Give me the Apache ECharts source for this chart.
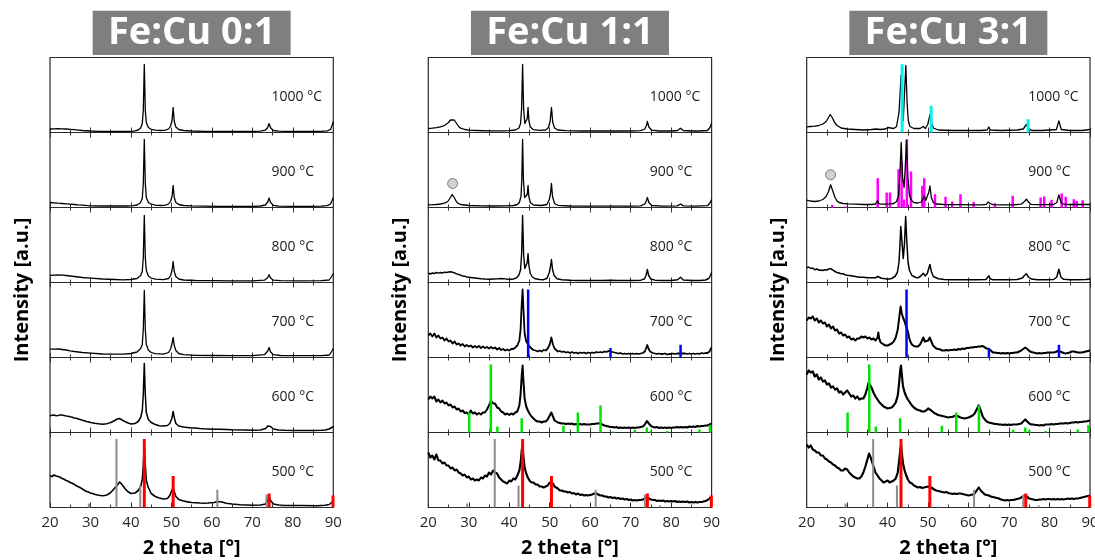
<!DOCTYPE html>
<html>
<head>
<meta charset="utf-8">
<script src="https://cdn.jsdelivr.net/npm/echarts@6/dist/echarts.min.js"></script>
<style>
  html, body { margin: 0; padding: 0; background: #fff; }
  #chart { width: 1095px; height: 560px; }
</style>
</head>
<body>
<div id="chart"></div>
<script>
// ---- Axis and labels ----
const panelTitles = ['Fe:Cu 0:1', 'Fe:Cu 1:1', 'Fe:Cu 3:1'];
const temperatures = ['1000 °C', '900 °C', '800 °C', '700 °C', '600 °C', '500 °C'];
const twoThetaTicks = [20, 30, 40, 50, 60, 70, 80, 90];
const xTitle = '2 theta [°]';
const yTitle = 'Intensity [a.u.]';

// ---- Diffraction patterns: flat lists of 2θ, intensity (a.u.) ----
// Fe:Cu 0:1
const fe0cu1_1000 = [20,3.5, 21,3.7, 22,3.8, 23,3.7, 24,3.5, 25,3.2, 26,2.8, 27,2.4, 28,2, 30,1.5, 32,1.2, 35,1, 38,1, 40,1.2, 41,1.6, 41.8,2.5, 42.4,4.5, 42.8,9, 43.05,22, 43.3,68, 43.55,22, 43.8,10, 44.3,5, 45,3.2, 46,2.3, 47.5,2, 48.5,2.3, 49.3,3.5, 49.8,6.5, 50.15,12, 50.43,25, 50.7,11, 51.1,5.5, 51.8,3, 53,2, 55,1.5, 58,1.2, 62,1, 66,1, 70,1, 72,1.3, 73.2,2.3, 73.8,5, 74.13,9, 74.5,4.8, 75.2,2, 76.5,1.3, 80,1, 84,1, 87,1.1, 88.5,1.6, 89.3,3, 89.7,7, 90,11];
const fe0cu1_900 = [20,5, 21,4.7, 22,4.3, 23,4, 24,3.7, 25,3.4, 26,3, 27,2.6, 28,2.3, 30,1.7, 33,1.5, 36,1.5, 39,1.5, 40.5,1.8, 41.5,2.5, 42.3,4.5, 42.8,9, 43.05,24, 43.3,68, 43.55,24, 43.8,10, 44.3,5, 45,3.3, 46,2.3, 47.5,2, 48.5,2.3, 49.3,3.5, 49.8,6.5, 50.15,11, 50.43,22, 50.7,10, 51.1,5, 51.8,3, 53,2, 55,1.6, 58,1.3, 62,1.2, 66,1.2, 70,1.2, 72,1.5, 73.2,2.5, 73.8,5.5, 74.13,9.5, 74.5,5, 75.2,2.2, 76.5,1.4, 80,1.2, 84,1.2, 87,1.3, 88.5,1.8, 89.3,3.5, 89.7,7, 90,10];
const fe0cu1_800 = [20,7, 21,7.3, 22,7.5, 23,7.3, 24,7, 25,6.5, 26,6, 27,5.5, 28,5, 30,4.3, 33,3.5, 36,3, 38,2.7, 40,3, 41.5,4, 42.4,7, 42.8,11, 43.05,25, 43.3,67, 43.55,25, 43.8,12, 44.3,6.5, 45,4.5, 46,3.3, 48,2.8, 49.3,4, 49.8,7, 50.15,12, 50.43,21, 50.7,11, 51.1,6, 51.8,3.5, 53,2.5, 56,2, 60,1.8, 65,1.7, 70,1.7, 73,2.3, 73.8,5, 74.13,7.7, 74.5,4.5, 75.2,2.3, 77,1.8, 82,1.7, 87,1.8, 89,2.5, 89.6,6, 90,9];
const fe0cu1_700 = [20,8.3, 21,8.4, 22,8.5, 23,8, 24,7.5, 25,6.7, 26,6, 28,5, 30,4.3, 33,3.5, 35,3.3, 38,3.3, 40,4, 41.5,5.5, 42.4,9, 42.8,13, 43.05,28, 43.3,67, 43.55,28, 43.8,13, 44.3,7.5, 45,5, 46,3.8, 48,3.3, 49.3,5, 49.8,8.5, 50.15,14, 50.43,20, 50.7,12, 51.1,7, 51.8,4, 53,2.8, 56,2.2, 60,2, 65,1.8, 70,1.8, 73,2.8, 73.8,6.5, 74.13,10, 74.5,5.5, 75.2,2.8, 77,2, 82,1.8, 87,1.8, 89,2.5, 89.6,6, 90,9];
const fe0cu1_600 = [20,16.7, 20.5,17.3, 21,17.5, 21.5,16.8, 22,17, 22.5,17.6, 23,17.5, 23.5,16.9, 24,16.5, 24.5,16.3, 25,15.7, 25.5,15.3, 26,14.5, 26.5,14.2, 27,13.5, 27.5,13, 28,12.3, 28.5,11.8, 29,11, 29.5,10.7, 30,10, 30.5,9.8, 31,9.3, 31.5,9.1, 32,8.7, 32.5,8.6, 33,8.3, 33.5,8.6, 34,8.7, 34.5,9.4, 35,10, 35.5,11, 36,12, 36.6,13.5, 37.2,14, 37.8,12.5, 38.5,11, 39.3,9.5, 40,8.5, 41,9, 41.8,11, 42.4,15, 42.8,22, 43.05,38, 43.3,69, 43.55,38, 43.8,20, 44.3,13, 45,10, 46,8, 47,6.7, 48,6.5, 49,7, 49.6,9, 50.1,14, 50.43,21, 50.7,15, 51.1,9, 51.8,6.5, 53,5.5, 54,5, 55,4.5, 56,4.4, 57,4, 58,3.7, 60,3.3, 62,3.3, 63.5,3, 65,2.7, 68,2.5, 70,2.3, 72,2.5, 73.3,4, 73.8,6.5, 74.13,8.3, 74.5,6, 75.2,3.5, 76.5,2.5, 78,2.2, 80,2, 82,2.1, 85,2, 87,2.2, 88,2.5, 89,3.5, 89.6,5, 90,6];
const fe0cu1_500 = [20,31.7, 20.5,31, 21,32.5, 21.5,31.5, 22,31, 22.5,30.3, 23,29, 23.5,28.2, 24,27, 24.5,26.2, 25,25, 25.5,24.2, 26,23, 26.5,21.8, 27,20.7, 27.5,19.8, 28,18.5, 28.5,17.2, 29,16, 29.5,15.4, 30,14.5, 30.5,14, 31,13.3, 31.5,12.8, 32,12.3, 32.5,12, 33,11.7, 33.5,12, 34,12.5, 34.5,13.5, 35,15, 35.8,18.5, 36.5,21.7, 37.2,25.5, 37.8,23, 38.5,19, 39.2,16, 40,14, 41,14.5, 41.8,17, 42.4,21, 42.8,28, 43.05,42, 43.3,62, 43.55,42, 43.8,27, 44.3,20, 45,14, 46,11, 47,9.5, 48,8.5, 49,9, 49.6,12, 50.1,17, 50.43,20, 50.7,16, 51.1,11, 51.8,8, 53,6.5, 54,5.6, 55,5, 56,4.8, 57,4.5, 58,4.3, 59,4.5, 60.5,5, 61.5,6, 62.5,5.5, 63.5,4.3, 65,3.5, 67,2.7, 70,2.3, 72,2.5, 73.3,3.5, 73.8,7, 74.13,11.5, 74.5,7, 75.2,3.5, 76.5,2.5, 78,2, 82,2, 86,1.8, 88,2.2, 89,3, 89.6,5, 90,6.7];

// Fe:Cu 1:1
const fe1cu1_1000 = [20,4, 21,4.3, 22,4.8, 23,5.7, 24,7, 25,10, 25.5,12.5, 25.9,14.3, 26.4,12.5, 27,9, 27.5,6, 28,4.3, 29,3, 30,2.3, 32,2, 35,1.7, 38,1.7, 40,1.8, 41.5,2.5, 42.4,4.5, 42.8,9, 43.05,24, 43.3,68, 43.55,24, 43.85,9, 44.2,7.5, 44.45,14, 44.65,25, 44.85,12, 45.2,5.5, 46,2.8, 47.5,2.2, 49,2.5, 49.7,5, 50.1,11, 50.43,25, 50.75,10, 51.2,4.5, 52,2.5, 54,1.8, 58,1.5, 62,1.5, 66,1.5, 70,1.5, 72.5,1.8, 73.5,3.5, 73.9,7, 74.13,11, 74.5,5.5, 75.2,2.3, 77,1.5, 80,1.5, 81.6,2, 82.33,4.3, 83,2, 85,1.5, 87,1.5, 89,2, 89.6,5, 90,9];
const fe1cu1_900 = [20,2.7, 21,2.8, 22,3, 23,3.5, 24,4.3, 24.8,6, 25.4,9.5, 25.9,13, 26.4,10, 27,5.5, 27.5,3.8, 28,3, 30,2, 33,1.7, 36,1.5, 39,1.7, 41,2, 42,3, 42.5,5, 42.9,11, 43.1,28, 43.3,68, 43.5,28, 43.8,10, 44.2,8, 44.45,13, 44.65,22, 44.85,11, 45.2,5, 46,2.5, 48,2, 49.3,3, 49.9,8, 50.2,14, 50.43,24, 50.7,11, 51.2,4, 52,2.2, 55,1.5, 60,1.3, 65,1.3, 70,1.3, 72.5,1.6, 73.5,3.5, 73.9,7, 74.13,10, 74.5,5, 75.2,2, 78,1.3, 81.5,1.6, 82.33,3.5, 83,1.6, 86,1.3, 89,1.8, 89.6,4.5, 90,8];
const fe1cu1_800 = [20,9.5, 20.5,8.5, 21,9.5, 21.5,9, 22,10, 22.5,9.3, 23,10, 23.5,9.5, 24,10.3, 24.5,10, 25,10.5, 25.5,10.7, 26,10.3, 26.5,9.5, 27,8.7, 27.5,8, 28,7.3, 28.5,6.5, 29,6.3, 29.5,5.5, 30,5.3, 31,4.8, 32,4.3, 33,3.8, 34,3.5, 35,3.3, 36,3.5, 37,3.6, 38,4, 39,3.6, 40,3, 41,3.5, 41.8,4.7, 42.4,7.5, 42.8,13, 43.05,28, 43.3,67, 43.55,28, 43.85,14, 44.2,13, 44.45,20, 44.65,28.7, 44.85,17, 45.2,9, 45.7,5.5, 46.5,3.7, 47.5,3, 48.5,2.8, 49.3,4, 49.9,10, 50.15,15, 50.43,23, 50.7,13, 51.1,7, 51.8,3.8, 53,2.7, 55,2.2, 57,2, 60,2, 63,2, 65,2.2, 67,2, 70,2, 72.5,2.3, 73.4,3.5, 73.8,7, 74.13,13, 74.45,7, 75,3.5, 76,2.3, 78,2, 80,2, 81.6,2.8, 82.33,5.3, 83,2.5, 85,2, 87,2, 88.5,2.5, 89.3,4, 89.7,7, 90,10];
const fe1cu1_700 = [20,22, 20.5,24, 21,21, 21.5,24, 22,20, 22.5,22, 23,19, 23.5,20, 24,17, 24.5,19, 25,16, 25.5,17, 26,14, 26.5,16, 27,13, 27.5,14, 28,12, 28.5,13.5, 29,11, 29.5,12.5, 30,11, 30.5,12, 31,10, 31.5,11.5, 32,10, 32.5,11.5, 33,9.5, 33.5,11, 34,9.5, 34.5,10.5, 35,9, 35.5,10.5, 36,9, 36.5,10, 37,8, 37.5,9.5, 38,7.5, 38.5,8.5, 39,7, 39.5,8, 40,7, 40.5,8.5, 41,8.5, 41.5,10, 42,12, 42.5,17, 42.8,28, 43.1,55, 43.3,68, 43.5,50, 43.8,24, 44.2,16, 44.6,15, 45,11, 45.5,9, 46,7.5, 46.5,7, 47,6, 47.5,7, 48,6, 48.5,7.5, 49,7, 49.5,9, 50,13, 50.4,20, 50.8,13, 51.2,9, 51.5,7.5, 52,6, 52.5,6.5, 53,5.5, 53.5,6, 54,5, 54.5,5.5, 55,4.5, 55.5,5.5, 56,4.5, 56.5,5, 57,4, 57.5,5, 58,4.5, 58.5,5, 59,4, 59.5,5, 60,4.5, 60.5,5, 61,4.5, 61.5,5.5, 62,5, 62.5,5.5, 63,5, 63.5,6, 64,5.5, 64.5,6.5, 65,6, 65.5,5.5, 66,5, 66.5,4.5, 67,4, 67.5,4.5, 68,3.5, 68.5,4, 69,3.5, 69.5,4, 70,3.5, 70.5,4, 71,3.5, 71.5,4, 72,3.5, 72.5,4, 73,4.5, 73.5,6, 73.8,9, 74.1,12.5, 74.4,9, 74.8,6, 75.2,5, 75.5,4.5, 76,4, 76.5,3.5, 77,4, 77.5,3.5, 78,3.5, 78.5,4, 79,3, 79.5,3.5, 80,3.5, 80.5,4, 81,3.5, 81.5,4, 82,4, 82.3,5, 82.6,4, 83,3.5, 83.5,4, 84,3.5, 84.5,4, 85,3.5, 85.5,4, 86,3.5, 86.5,4, 87,3.5, 87.5,4.5, 88,4, 88.5,4.5, 89,4.5, 89.5,6, 89.8,9, 90,10];
const fe1cu1_600 = [20,33, 20.5,36, 21,34, 21.5,36, 22,31, 22.5,33, 23,30, 23.5,32, 24,29, 24.5,30, 25,27, 25.5,28, 26,25, 26.5,26, 27,23, 27.5,24, 28,21, 28.5,22, 29,19.5, 29.5,20, 30,18, 30.5,22, 31,19, 31.5,20, 32,18, 32.5,19.5, 33,18, 33.5,20, 34,20, 34.5,23, 35,27, 35.5,32, 36,29, 36.5,29, 37,25, 37.5,24, 38,21, 38.5,20, 39,18, 39.5,19, 40,17.5, 40.5,19, 41,18, 41.5,20, 42,21, 42.5,27, 42.8,38, 43.1,58, 43.3,67, 43.5,52, 43.8,34, 44.2,26, 44.6,22, 45,19, 45.5,16, 46,14, 46.5,12, 47,11, 47.5,11, 48,10, 48.5,11, 49,11, 49.5,13, 50,17, 50.4,20, 50.8,16, 51.2,12, 51.5,11, 52,10, 52.5,9.5, 53,9, 53.5,9, 54,8.5, 54.5,9, 55,8.5, 55.5,9, 56,8, 56.5,8.5, 57,8, 57.5,8.5, 58,8, 58.5,8.5, 59,8, 59.5,8, 60,8, 60.5,8.5, 61,8.5, 61.5,9, 62,9, 62.5,9.5, 63,8, 63.5,7, 64,6.5, 64.5,6, 65,5.5, 65.5,5.5, 66,5, 66.5,5.5, 67,4.5, 67.5,5, 68,4.5, 68.5,5, 69,4.5, 69.5,5, 70,4.5, 70.5,5, 71,4.5, 71.5,5, 72,5, 72.5,5.5, 73,6, 73.5,8, 74,11.5, 74.3,11, 74.7,8, 75.2,6, 75.5,5.5, 76,5, 76.5,5.5, 77,4.5, 77.5,5, 78,4.5, 78.5,5, 79,4.5, 79.5,5, 80,4.5, 80.5,5, 81,5, 81.5,5.5, 82,5, 82.5,5.5, 83,5, 83.5,5.5, 84,5, 84.5,6, 85,5.5, 85.5,6, 86,5.5, 86.5,6.5, 87,6, 87.5,6.5, 88,6.5, 88.5,7, 89,7, 89.5,8, 90,9];
const fe1cu1_500 = [20,55, 20.5,50, 21,52, 21.5,48, 22,53, 22.5,47, 23,47, 23.5,44, 24,45, 24.5,42, 25,42, 25.5,39, 26,40, 26.5,37, 27,38, 27.5,35, 28,34, 28.5,32, 29,33, 29.5,30, 30,31, 30.5,28, 31,29, 31.5,27, 32,28, 32.5,27, 33,30, 33.5,29, 34,32, 34.5,31, 35,35, 35.5,33, 36,37, 36.5,35, 37,34, 37.5,30, 38,28, 38.5,26, 39,25, 39.5,24, 40,27, 40.5,26, 41,29, 41.5,28, 42,32, 42.5,37, 42.8,45, 43.1,58, 43.3,62, 43.5,52, 43.8,40, 44.2,34, 44.6,30, 45,27, 45.5,25, 46,25, 46.5,23, 47,23, 47.5,21, 48,21, 48.5,20, 49,21, 49.5,22, 50,25, 50.4,27, 50.8,24, 51.2,21, 51.5,20, 52,19, 52.5,17, 53,17, 53.5,16, 54,16, 54.5,15, 55,15.5, 55.5,14, 56,14.5, 56.5,13, 57,14, 57.5,12.5, 58,13, 58.5,12, 59,12.5, 59.5,12, 60,12.5, 60.5,13, 61,14, 61.5,14, 62,13, 62.5,12, 63,12, 63.5,11, 64,11, 64.5,10, 65,10.5, 65.5,9.5, 66,10, 66.5,9, 67,9.5, 67.5,8.5, 68,9, 68.5,8, 69,8.5, 69.5,7.5, 70,8, 70.5,7, 71,7.5, 71.5,7, 72,7.5, 72.5,7.5, 73,8, 73.5,9, 74,10, 74.5,9, 75,8, 75.5,7.5, 76,7.5, 76.5,6.5, 77,7, 77.5,6.5, 78,7, 78.5,6, 79,6.5, 79.5,6, 80,6.5, 80.5,6, 81,6.5, 81.5,5.5, 82,6, 82.5,5.5, 83,6, 83.5,5.5, 84,6, 84.5,5, 85,5.5, 85.5,5, 86,5.5, 86.5,5, 87,5.5, 87.5,5.5, 88,6, 88.5,6.5, 89,7.5, 89.5,9, 90,11];

// Fe:Cu 3:1
const fe3cu1_1000 = [20,5.7, 21,6, 22,6.3, 23,7, 24,8.5, 24.8,11, 25.4,15, 25.8,18, 26.3,15, 26.9,10, 27.5,7, 28.5,4.5, 30,3.5, 32,3, 34,2.5, 36,3, 37.3,3.5, 37.7,5.5, 38.1,3, 39.5,3.5, 40,5, 40.4,3, 41.5,4, 42.2,6, 42.8,20, 43.1,40, 43.3,57, 43.6,30, 43.85,12, 44.15,38, 44.5,67, 44.8,30, 45.1,12, 45.5,6, 45.9,5, 46.5,4, 48,4, 48.8,6, 49.3,4, 49.9,8, 50.25,14, 50.5,18, 50.8,10, 51.3,4.5, 52.5,2.5, 56,2, 60,2, 63,2, 64.6,2.5, 65,5.5, 65.4,2.5, 68,2, 72,2.5, 73.5,3.5, 74.3,8, 74.9,4, 75.6,2, 78,2, 80,2.5, 81.7,3, 82.3,11.7, 82.9,3, 85,2, 88,2, 90,3];
const fe3cu1_900 = [20,7.3, 20.5,6.8, 21,6.5, 22,6, 23,6.5, 24,8, 24.8,11, 25.4,16, 25.9,22.7, 26.4,17, 27,10, 27.5,6.5, 28,5, 29,4, 30,3.7, 32,3.3, 34,3, 36,3, 37,3.5, 37.3,5, 37.5,7, 37.7,4.5, 38.2,3.3, 39.5,3.3, 40.5,3.6, 41.5,4, 42.2,6, 42.7,12, 43.05,35, 43.35,65, 43.7,30, 44.05,20, 44.35,40, 44.65,67, 45,30, 45.4,12, 45.9,7, 46.5,5, 47.5,4.5, 48.3,5.5, 48.8,9, 49.05,11.7, 49.4,7, 49.8,8, 50.15,15, 50.45,21.7, 50.8,10, 51.3,5, 52,3.5, 54,3, 56,2.8, 58,2.8, 61,2.7, 63,2.7, 64.4,3.2, 64.8,5.5, 65.03,7.3, 65.3,4, 66,2.8, 68,2.7, 71,2.7, 73,3.3, 73.8,6, 74.3,8.3, 74.8,5.5, 75.4,3.2, 77,2.8, 79,2.8, 81,3, 81.8,5, 82.3,12.7, 82.8,5.5, 83.4,3.3, 85,3, 87,3, 89,3, 90,3];
const fe3cu1_800 = [20,14.7, 20.5,15.5, 21,14, 21.5,14.5, 22,12.7, 22.5,13.5, 23,12.3, 23.5,12.5, 24,12, 24.5,12.8, 25,12.5, 25.5,13.7, 26,13.7, 26.5,12.3, 27,11, 27.5,10, 28,9.5, 28.5,8.7, 29,8.7, 29.5,7.8, 30,7.3, 31,6.7, 32,6, 33,5.3, 34,5.3, 35,4.7, 36,4.7, 37,4.7, 37.5,6, 37.7,8, 37.9,5, 38.5,4.3, 39.5,3.7, 40,3.3, 41,4, 41.8,6, 42.4,10, 42.8,20, 43.05,38, 43.25,56, 43.55,40, 43.85,24, 44.15,38, 44.45,66, 44.75,40, 45.05,20, 45.4,12, 46,7, 47,5, 47.5,4.7, 48.2,6.5, 48.8,9.3, 49.3,6.5, 49.8,9, 50.15,14, 50.45,18, 50.8,11, 51.3,6, 52.5,3.7, 54,3, 56,2.7, 58,2.7, 60,2.7, 62,2.7, 64.3,3, 64.75,5, 65.03,6.7, 65.3,3.7, 66,2.8, 68,2.7, 70,2.7, 72,3, 73.3,4.5, 73.8,7, 74.3,8.7, 74.8,5.5, 75.5,3.5, 77,2.8, 79,2.7, 81,3, 81.8,5.5, 82.3,13.3, 82.8,5.5, 83.5,3.2, 85,2.8, 87,2.7, 89,3, 90,3.5];
const fe3cu1_700 = [20,37, 20.5,40, 21,39, 21.5,41, 22,37, 22.5,39, 23,35, 23.5,37, 24,34, 24.5,35, 25,31, 25.5,33, 26,29, 26.5,31, 27,27, 27.5,28, 28,24, 28.5,25, 29,22, 29.5,23, 30,20, 30.5,21, 31,18, 31.5,19, 32,17, 32.5,19, 33,19, 33.5,21, 34,20, 34.5,21, 35,19, 35.5,20, 36,18, 36.5,19, 37,17, 37.5,20, 37.7,25, 37.9,19, 38.3,15, 38.5,14, 39,13, 39.5,12, 40,12, 40.5,13, 41,14, 41.5,16, 42,20, 42.5,28, 42.8,38, 43.2,51, 43.5,44, 43.8,40, 44.1,37, 44.4,33, 44.7,30, 45,26, 45.3,20, 45.6,16, 46,13, 46.5,11.5, 47,11, 47.5,11, 48,13, 48.5,17, 48.8,20, 49.2,16, 49.5,15, 50,17, 50.4,20, 50.8,16, 51.2,12, 51.5,11, 52,9, 52.5,8.5, 53,8, 53.5,7, 54,7, 54.5,7.5, 55,7, 55.5,7.5, 56,7.5, 56.5,8, 57,7.5, 57.5,8.5, 58,8, 58.5,9, 59,8.5, 59.5,9.5, 60,9.5, 60.5,10, 61,10, 61.5,10.5, 62,10.5, 62.5,11, 63,11, 63.5,11.5, 64,10, 64.5,9, 65,8.5, 65.5,7, 66,5, 66.5,5, 67,4.5, 67.5,4.5, 68,4, 68.5,4.5, 69,4, 69.5,4.5, 70,4, 70.5,4.5, 71,4.5, 71.5,5, 72,5, 72.5,6, 73,7, 73.5,8.5, 74,10, 74.5,8.5, 75,6.5, 75.5,5.5, 76,5, 76.5,4.5, 77,4, 77.5,4.5, 78,4, 78.5,4.5, 79,4.5, 79.5,5, 80,5, 80.5,5, 81,5, 81.5,5.5, 82,6.5, 82.3,7.5, 82.6,6, 83,5, 83.5,4.5, 84,4, 84.5,4.5, 85,5, 85.5,6, 86,6, 86.5,5.5, 87,5, 87.5,5, 88,5, 88.5,5.5, 89,6, 89.5,6.5, 90,7];
const fe3cu1_600 = [20,58, 20.5,62, 21,60, 21.5,61, 22,56, 22.5,58, 23,53, 23.5,55, 24,51, 24.5,52, 25,48, 25.5,49, 26,45, 26.5,46, 27,43, 27.5,44, 28,40, 28.5,41, 29,38, 29.5,40, 30,42, 30.5,39, 31,36, 31.5,37, 32,34, 32.5,36, 33,33, 33.5,34, 34,34, 34.5,38, 35,45, 35.3,50, 35.6,51, 36,45, 36.5,40, 37,36, 37.5,33, 38,30, 38.5,28, 39,26, 39.5,25, 40,24, 40.5,24.5, 41,25, 41.5,27, 42,30, 42.5,37, 42.8,48, 43.1,62, 43.3,67, 43.5,58, 43.8,46, 44.2,40, 44.6,36, 45,33, 45.5,30, 46,27, 46.5,25, 47,23.5, 47.5,22.5, 48,22, 48.5,21, 49,21, 49.5,22, 50,24, 50.4,25, 50.8,22, 51.2,20, 51.5,19.5, 52,18.5, 52.5,17.5, 53,17, 53.5,16.5, 54,16, 54.5,15.5, 55,15, 55.5,15.5, 56,15.5, 56.5,16.5, 57,17, 57.5,16, 58,15, 58.5,14.5, 59,14, 59.5,14.5, 60,15, 60.5,16, 61,17, 61.5,19, 62,23, 62.5,27, 63,22, 63.5,16, 64,13, 64.5,11, 65,10, 65.5,9.5, 66,9, 66.5,8.5, 67,8.5, 67.5,8, 68,8, 68.5,7.5, 69,8, 69.5,7.5, 70,8, 70.5,7.5, 71,8, 71.5,8, 72,8, 72.5,8.5, 73,9, 73.5,11, 74,13, 74.5,11, 75,9, 75.5,8, 76,8, 76.5,7.5, 77,7.5, 77.5,7, 78,7.5, 78.5,7, 79,8, 79.5,8, 80,8, 80.5,8.5, 81,8, 81.5,8.5, 82,8.5, 82.5,9, 83,9, 83.5,9, 84,9.5, 84.5,9, 85,9.5, 85.5,10, 86,10, 86.5,10.5, 87,10, 87.5,10.5, 88,10.5, 88.5,11, 89,11, 89.5,11.5, 90,12];
const fe3cu1_500 = [20,63, 20.5,60, 21,62, 21.5,58, 22,57, 22.5,55, 23,55, 23.5,52, 24,52, 24.5,49, 25,48, 25.5,46, 26,45, 26.5,43, 27,42, 27.5,40, 28,39, 28.5,37, 29,37, 29.5,39, 30,38, 30.5,35, 31,33, 31.5,31, 32,30, 32.5,29, 33,29, 33.5,31, 34,35, 34.5,41, 35,48, 35.4,54, 35.8,50, 36.2,45, 36.6,40, 37,35, 37.5,32, 38,29, 38.5,27, 39,25, 39.5,26, 40,27, 40.5,25, 41,26, 41.5,27, 42,29, 42.5,35, 42.8,45, 43.1,57, 43.3,62, 43.5,55, 43.8,44, 44.2,37, 44.6,32, 45,28, 45.5,25, 46,24, 46.5,22, 47,21, 47.5,20, 48,20.5, 48.5,19.5, 49,20, 49.5,20.5, 50,21, 50.4,22, 50.8,20, 51.2,18.5, 51.5,18, 52,17, 52.5,16.5, 53,16, 53.5,15.5, 54,15, 54.5,15.5, 55,14.5, 55.5,14, 56,13.5, 56.5,14, 57,13.5, 57.5,14, 58,14, 58.5,13.5, 59,13, 59.5,12.5, 60,12, 60.5,12.5, 61,13, 61.5,14, 62,17, 62.5,20, 63,17, 63.5,15, 64,13, 64.5,12.5, 65,12, 65.5,11, 66,10.5, 66.5,10, 67,9.5, 67.5,9, 68,8, 68.5,7.5, 69,7, 69.5,7.5, 70,7, 70.5,7.5, 71,7.5, 71.5,8, 72,8.5, 72.5,9, 73,10, 73.5,11, 74,12, 74.5,10.5, 75,9, 75.5,8.5, 76,8, 76.5,7.5, 77,7.5, 77.5,8, 78,8, 78.5,8.5, 79,8, 79.5,8.5, 80,8.5, 80.5,8, 81,8.5, 81.5,8, 82,8.5, 82.5,8, 83,8.5, 83.5,8, 84,8.5, 84.5,9, 85,8.5, 85.5,9, 86,8.5, 86.5,9, 87,9, 87.5,9.5, 88,10, 88.5,10.5, 89,11, 89.5,11.5, 90,12];

// ---- Reference stick patterns: flat lists of 2θ, relative intensity ----
const cuRef      = [43.3,68.5, 50.43,31.5, 74.13,14, 89.93,12];
const cu2oRef    = [29.6,4, 36.42,68.5, 42.3,22, 52.5,1, 61.35,17.7, 73.5,13, 77.3,2];
const fe3o4Ref   = [30.1,20, 35.45,68, 37.07,6, 43.08,14.3, 47.15,1, 53.4,6.7, 56.95,20, 62.55,27, 65.7,1, 71.0,2.7, 74.0,5, 75.0,2, 79.0,1.5, 83.8,1, 87.0,3, 89.6,7.5];
const alphaFeRef = [44.67,68, 65.02,9.5, 82.33,12.7];
const gammaFeRef = [43.58,68.3, 50.75,26.7, 74.7,13.3];
const fe3cRef    = [26.3,2.7, 29.5,1, 37.55,29.3, 39.76,15, 40.58,15, 42.7,38.3, 43.45,46, 44.0,8, 44.75,68.3, 45.77,36, 48.56,21.7, 49.05,29.3, 51.7,13.3, 54.3,10.7, 55.97,6, 58.0,13.3, 61.25,5.7, 66.5,4.3, 70.9,11.7, 77.8,10, 78.7,11, 80.5,7.7, 83.0,14, 84.0,10.7, 86.0,8.3, 86.7,6.7, 88.2,7.3];
// graphitic carbon marker (2θ, height) for the 900 °C patterns of 1:1 and 3:1
const carbonMarks = [null, [26.0, 24], [25.9, 32.7]];

const patterns = [
  [fe0cu1_1000, fe0cu1_900, fe0cu1_800, fe0cu1_700, fe0cu1_600, fe0cu1_500],
  [fe1cu1_1000, fe1cu1_900, fe1cu1_800, fe1cu1_700, fe1cu1_600, fe1cu1_500],
  [fe3cu1_1000, fe3cu1_900, fe3cu1_800, fe3cu1_700, fe3cu1_600, fe3cu1_500]
];

// which reference sticks go under which pattern: [panel, row, data, color, width, behindCurve]
const stickSets = [
  [0, 5, cu2oRef, '#8c8c8c', 2, false], [0, 5, cuRef, '#ff0000', 3, false],
  [1, 3, alphaFeRef, '#0000ff', 2.5, false], [1, 4, fe3o4Ref, '#00e400', 2.5, false],
  [1, 5, cu2oRef, '#8c8c8c', 2, false], [1, 5, cuRef, '#ff0000', 3, false],
  [2, 0, gammaFeRef, '#00f0f0', 3, false], [2, 1, fe3cRef, '#ff00ff', 2.5, true],
  [2, 3, alphaFeRef, '#0000ff', 2.5, false], [2, 4, fe3o4Ref, '#00e400', 2.5, false],
  [2, 5, cu2oRef, '#8c8c8c', 2, false], [2, 5, cuRef, '#ff0000', 3, false]
];

// ---- Layout ----
const PANEL_LEFT = [50, 428.3, 806.7];
const PLOT_W = 283.3, ROW_H = 75, TOP0 = 57.5;
const FONT = "'Open Sans', 'Noto Sans', sans-serif";
// trace thickness per panel/row (the noisier low-temperature scans read as heavier bands)
const TRACE_W = [
  [1.3, 1.3, 1.3, 1.3, 1.5, 1.6],
  [1.3, 1.3, 1.4, 1.8, 2.0, 2.1],
  [1.3, 1.3, 1.5, 2.0, 2.2, 2.2]
];

function toPairs(flat) {
  const out = [];
  for (let i = 0; i < flat.length; i += 2) out.push([flat[i], flat[i + 1]]);
  return out;
}

const grids = [], xAxes = [], yAxes = [], series = [], graphics = [];
const topAxes = [];
const xMin = twoThetaTicks[0], xMax = twoThetaTicks[twoThetaTicks.length - 1];
const tickStyle = { color: '#333', width: 1 };

for (let p = 0; p < 3; p++) {
  for (let r = 0; r < 6; r++) {
    const g = p * 6 + r;
    grids.push({
      left: PANEL_LEFT[p], top: TOP0 + r * ROW_H, width: PLOT_W, height: ROW_H,
      show: true, borderColor: '#2b2b2b', borderWidth: 1.2, backgroundColor: 'transparent',
      containLabel: false, outerBoundsMode: 'none'
    });
    xAxes.push({
      gridIndex: g, type: 'value', min: xMin, max: xMax, interval: 10, position: 'bottom',
      axisLine: { show: false }, splitLine: { show: false },
      axisTick: { show: true, inside: true, length: 5, lineStyle: tickStyle },
      minorTick: { show: true, splitNumber: 2, length: 3, lineStyle: tickStyle },
      axisLabel: { show: r === 5, fontSize: 15, color: '#262626', fontFamily: FONT, margin: 8 }
    });
    if (r > 0) {
      topAxes.push({
        gridIndex: g, type: 'value', min: xMin, max: xMax, interval: 10, position: 'top',
        axisLine: { show: false }, splitLine: { show: false }, axisLabel: { show: false },
        axisTick: { show: true, inside: true, length: 5, lineStyle: tickStyle },
        minorTick: { show: true, splitNumber: 2, length: 3, lineStyle: tickStyle }
      });
    }
    yAxes.push({ gridIndex: g, type: 'value', min: 0, max: 75, show: false });

    series.push({
      type: 'line', xAxisIndex: g, yAxisIndex: g, data: toPairs(patterns[p][r]),
      symbol: 'none', lineStyle: { color: '#000', width: TRACE_W[p][r], join: 'round' }, z: 3, silent: true
    });

    graphics.push({
      type: 'text', x: PANEL_LEFT[p] + 221.5, y: TOP0 + r * ROW_H + 40,
      style: { text: temperatures[r], fontSize: 14, fontFamily: FONT, fill: '#1a1a1a',
               textAlign: 'left', textVerticalAlign: 'middle' }
    });
  }

  const cx = PANEL_LEFT[p] + PLOT_W / 2;
  graphics.push({ type: 'rect', shape: { x: cx - 99, y: 10.7, width: 198, height: 44.3 },
                  style: { fill: '#7f7f7f' } });
  graphics.push({ type: 'text', x: cx, y: 33,
                  style: { text: panelTitles[p], fontSize: 38, fontWeight: 'bold', fontFamily: FONT,
                           fill: '#fff', textAlign: 'center', textVerticalAlign: 'middle' } });
  graphics.push({ type: 'text', x: cx, y: 548,
                  style: { text: xTitle, fontSize: 20, fontWeight: 'bold', fontFamily: FONT,
                           fill: '#000', textAlign: 'center', textVerticalAlign: 'middle' } });
  graphics.push({ type: 'text', x: PANEL_LEFT[p] - 28, y: 290, rotation: Math.PI / 2,
                  style: { text: yTitle, fontSize: 20, fontWeight: 'bold', fontFamily: FONT,
                           fill: '#000', textAlign: 'center', textVerticalAlign: 'middle' } });

  if (carbonMarks[p]) {
    const g = p * 6 + 1;
    series.push({
      type: 'scatter', xAxisIndex: g, yAxisIndex: g, data: [carbonMarks[p]],
      symbol: 'circle', symbolSize: 10, z: 6, silent: true,
      itemStyle: { color: '#c4c4c4', borderColor: '#666', borderWidth: 1 }
    });
  }
}

stickSets.forEach(([p, r, ref, color, width, behind]) => {
  const g = p * 6 + r;
  series.push({
    type: 'custom', xAxisIndex: g, yAxisIndex: g, data: toPairs(ref), z: behind ? 2 : 4, silent: true,
    renderItem: (params, api) => {
      const a = api.coord([api.value(0), 0]);
      const b = api.coord([api.value(0), api.value(1)]);
      return { type: 'line', shape: { x1: a[0], y1: a[1], x2: b[0], y2: b[1] },
               style: { stroke: color, lineWidth: width } };
    }
  });
});

const chart = echarts.init(document.getElementById('chart'), null, { renderer: 'canvas' });
chart.setOption({
  animation: false,
  backgroundColor: '#fff',
  grid: grids,
  xAxis: xAxes.concat(topAxes),
  yAxis: yAxes,
  series: series,
  graphic: graphics
});
</script>
</body>
</html>
